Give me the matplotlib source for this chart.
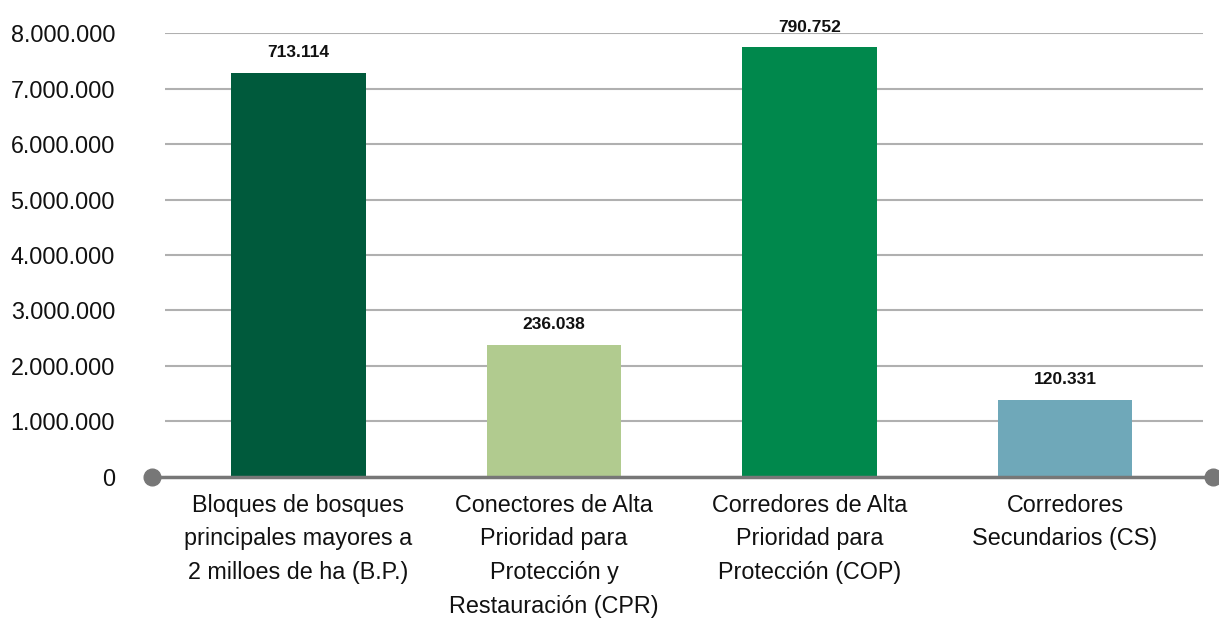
import numpy as np
import matplotlib.pyplot as plt
from matplotlib.ticker import FuncFormatter

# data
categorias = [
    "Bloques de bosques\nprincipales mayores a\n2 milloes de ha (B.P.)",
    "Conectores de Alta\nPrioridad para\nProtección y\nRestauración (CPR)",
    "Corredores de Alta\nPrioridad para\nProtección (COP)",
    "Corredores\nSecundarios (CS)",
]
alturas = [7280000, 2380000, 7740000, 1390000]
etiquetas = ["713.114", "236.038", "790.752", "120.331"]
colores = ["#005a3c", "#b1cb8f", "#00884c", "#6fa8b9"]
y_ticks = [0, 1000000, 2000000, 3000000, 4000000, 5000000, 6000000, 7000000, 8000000]

plt.rcParams['font.family'] = ['Liberation Sans', 'DejaVu Sans']

fig = plt.figure(figsize=(12.19, 6.24), dpi=100)
ax = fig.add_axes([0.1354, 0.2356, 0.8515, 0.7115])

x = np.arange(len(categorias))
ax.bar(x, alturas, width=0.525, color=colores, zorder=3)

for i in range(len(x)):
    ax.annotate(etiquetas[i], (x[i], alturas[i]), xytext=(0, 9),
                textcoords="offset points", ha="center", va="bottom",
                fontsize=12.5, fontweight="bold", color="#111111",
                annotation_clip=False, zorder=4)

ax.set_ylim(0, 8000000)
ax.set_xlim(-0.522, 3.54)
ax.set_yticks(y_ticks)
ax.yaxis.set_major_formatter(FuncFormatter(lambda v, p: f"{int(v):,}".replace(",", ".")))
ax.set_xticks(x)
ax.set_xticklabels(categorias, fontsize=16.8, linespacing=1.6, color="#111111")
ax.tick_params(axis="x", length=0, pad=12)
ax.tick_params(axis="y", length=0, pad=36, labelsize=16.8, labelcolor="#111111")

for s in ax.spines.values():
    s.set_visible(False)
ax.yaxis.grid(True, color="#b0b0b0", linewidth=1.5, zorder=0)
ax.set_axisbelow(True)

# x axis line with round end caps
ax.plot([-0.0125, 1.0096], [0, 0], transform=ax.transAxes, color="#777777",
        linewidth=2.5, marker="o", markersize=12, clip_on=False, zorder=5)

fig.savefig("out.png", dpi=100)
